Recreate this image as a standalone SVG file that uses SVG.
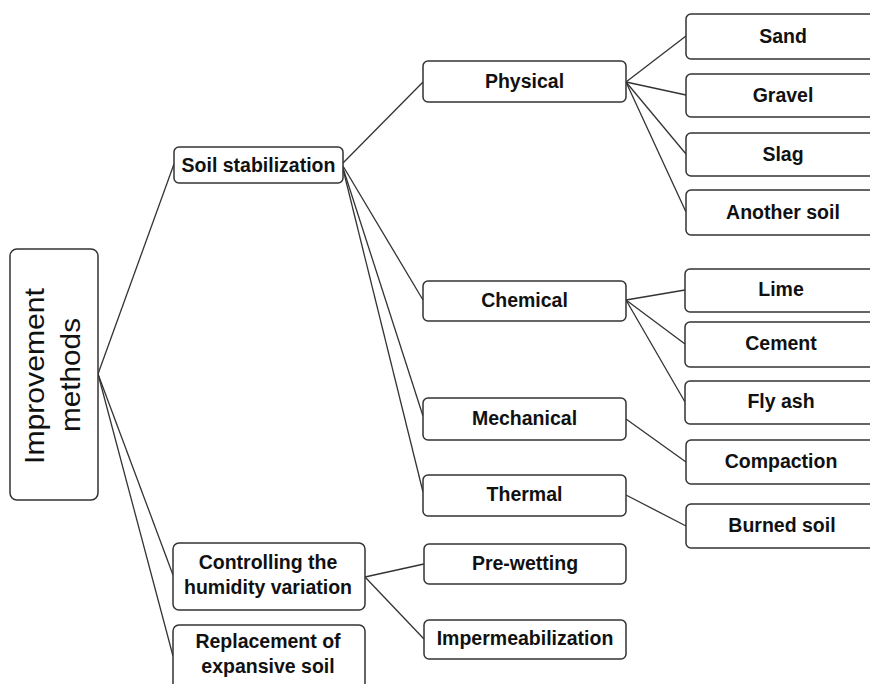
<svg xmlns="http://www.w3.org/2000/svg" width="870" height="684" viewBox="0 0 870 684">
<style>
.box{fill:#fff;stroke:#333;stroke-width:1.5}
.t{font-family:"Liberation Sans",Arial,sans-serif;font-weight:bold;font-size:19.5px;fill:#111;text-anchor:middle}
.r{font-family:"Liberation Sans",Arial,sans-serif;font-size:28px;fill:#111;text-anchor:middle}
.c line{stroke:#333;stroke-width:1.3}
</style>
<rect width="870" height="684" fill="#fff"/>
<g class="c" id="connectors">
<line x1="98" y1="374" x2="174" y2="164"/>
<line x1="98" y1="374" x2="173" y2="575"/>
<line x1="98" y1="374" x2="173" y2="656"/>
<line x1="343" y1="163" x2="423" y2="82"/>
<line x1="343" y1="166" x2="423" y2="300"/>
<line x1="343" y1="168" x2="423" y2="416"/>
<line x1="343" y1="169" x2="423" y2="492"/>
<line x1="626" y1="82" x2="686" y2="36"/>
<line x1="626" y1="82" x2="686" y2="95"/>
<line x1="626" y1="82" x2="686" y2="154"/>
<line x1="626" y1="82" x2="686" y2="212"/>
<line x1="626" y1="300" x2="685" y2="290"/>
<line x1="626" y1="300" x2="685" y2="344"/>
<line x1="626" y1="300" x2="685" y2="402"/>
<line x1="626" y1="419" x2="686" y2="462"/>
<line x1="626" y1="495" x2="686" y2="526"/>
<line x1="365" y1="577" x2="424" y2="564"/>
<line x1="365" y1="577" x2="424" y2="639"/>
</g>
<g id="root">
<rect class="box" x="10" y="249" width="88" height="251" rx="7"/>
<text class="r" transform="translate(44,376) rotate(-90)" textLength="176" lengthAdjust="spacingAndGlyphs">Improvement</text>
<text class="r" transform="translate(80,375) rotate(-90)" textLength="114" lengthAdjust="spacingAndGlyphs">methods</text>
</g>
<g id="soil-stabilization">
<rect class="box" x="174" y="147" width="169" height="36" rx="5"/>
<text class="t" x="258.5" y="172">Soil stabilization</text>
</g>
<g id="physical">
<rect class="box" x="423" y="61" width="203" height="41" rx="5"/>
<text class="t" x="524.5" y="88">Physical</text>
</g>
<g id="chemical">
<rect class="box" x="423" y="281" width="203" height="40" rx="5"/>
<text class="t" x="524.5" y="307">Chemical</text>
</g>
<g id="mechanical">
<rect class="box" x="423" y="398" width="203" height="42" rx="5"/>
<text class="t" x="524.5" y="425">Mechanical</text>
</g>
<g id="thermal">
<rect class="box" x="423" y="475" width="203" height="41" rx="5"/>
<text class="t" x="524.5" y="501">Thermal</text>
</g>
<g id="sand">
<rect class="box" x="686" y="14" width="194" height="45" rx="5"/>
<text class="t" x="783" y="43">Sand</text>
</g>
<g id="gravel">
<rect class="box" x="686" y="74" width="194" height="43" rx="5"/>
<text class="t" x="783" y="102">Gravel</text>
</g>
<g id="slag">
<rect class="box" x="686" y="133" width="194" height="43" rx="5"/>
<text class="t" x="783" y="161">Slag</text>
</g>
<g id="another-soil">
<rect class="box" x="686" y="190" width="194" height="45" rx="5"/>
<text class="t" x="783" y="219">Another soil</text>
</g>
<g id="lime">
<rect class="box" x="685" y="269" width="195" height="43" rx="5"/>
<text class="t" x="781" y="296">Lime</text>
</g>
<g id="cement">
<rect class="box" x="685" y="322" width="195" height="45" rx="5"/>
<text class="t" x="781" y="350">Cement</text>
</g>
<g id="fly-ash">
<rect class="box" x="685" y="381" width="195" height="43" rx="5"/>
<text class="t" x="781" y="408">Fly ash</text>
</g>
<g id="compaction">
<rect class="box" x="686" y="440" width="194" height="44" rx="5"/>
<text class="t" x="781" y="468">Compaction</text>
</g>
<g id="burned-soil">
<rect class="box" x="686" y="504" width="194" height="44" rx="5"/>
<text class="t" x="782" y="532">Burned soil</text>
</g>
<g id="controlling">
<rect class="box" x="173" y="543" width="192" height="67" rx="6"/>
<text class="t" x="268" y="569">Controlling the</text>
<text class="t" x="268" y="594">humidity variation</text>
</g>
<g id="replacement">
<rect class="box" x="173" y="625" width="192" height="80" rx="6"/>
<text class="t" x="268" y="648">Replacement of</text>
<text class="t" x="268" y="673">expansive soil</text>
</g>
<g id="pre-wetting">
<rect class="box" x="424" y="544" width="202" height="40" rx="5"/>
<text class="t" x="525" y="570">Pre-wetting</text>
</g>
<g id="impermeabilization">
<rect class="box" x="424" y="620" width="202" height="39" rx="5"/>
<text class="t" x="525" y="645">Impermeabilization</text>
</g>
</svg>
